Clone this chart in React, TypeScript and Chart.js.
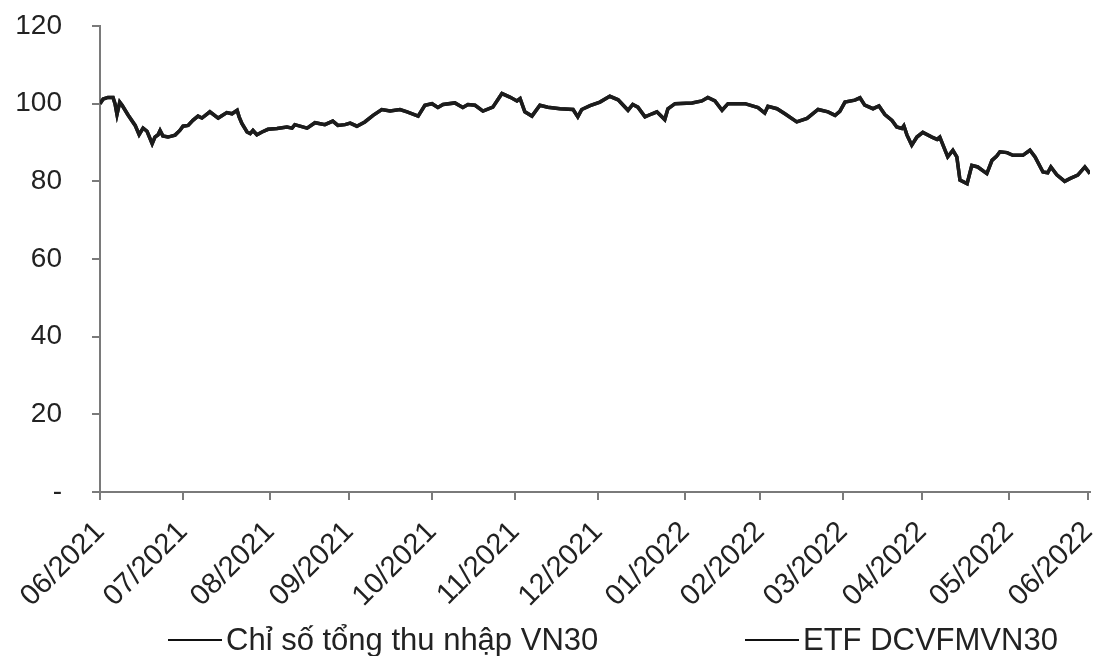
import React, { useEffect, useRef } from "react";
import { Chart, registerables } from "chart.js";

Chart.register(...registerables);

// trading-day number (0 = first trading day of 06/2021)
const dayIndex = [
  0, 0.8, 2, 3.3, 3.8, 4.3, 5, 5.6, 7.1, 8.9, 9.9, 10.9, 11.9, 13.2, 13.9, 14.7, 15.2, 15.9, 17.2, 19,
  20.2, 21, 22.3, 23.5, 24.8, 25.8, 27.8, 29.9, 32.1, 33.4, 34.7, 35.2, 35.9, 37.2, 38, 38.7, 39.7, 41,
  42.5, 44.8, 47.3, 48.6, 49.3, 52.4, 54.4, 56.9, 58.9, 60.2, 62, 63.3, 65, 67, 69.1, 71.3, 73.4, 75.9,
  77.7, 80.5, 82.2, 84, 85.5, 86.8, 89.8, 91.8, 93.1, 94.9, 96.9, 99.4, 101.7, 103.7, 105.5, 106.3,
  107.5, 109.3, 111.3, 113.3, 116.4, 119.7, 120.9, 121.9, 124, 126.5, 129, 131.1, 133.6, 134.8, 136.1,
  137.9, 139.7, 140.9, 142.9, 143.7, 145.5, 149.8, 152.3, 153.8, 155.6, 157.4, 158.9, 163.2, 166.5,
  168.2, 169, 171.3, 173.3, 176.3, 178.9, 181.7, 184.2, 186, 187.2, 188.5, 191, 192.3, 193.5, 195.6,
  197.1, 198.6, 200.4, 201.6, 202.9, 203.4, 204.2, 205.4, 206.7, 208.2, 210.5, 211.8, 212.5, 214.5,
  215.8, 216.8, 217.6, 219.4, 220.6, 222.1, 224.4, 225.7, 226.9, 227.7, 229.5, 231, 233.5, 235.3,
  236.6, 238.6, 239.8, 240.6, 242.1, 244.1, 245.4, 247.4, 249.2, 250.5,
];

// Chỉ số tổng thu nhập VN30
const vn30TotalReturn = [
  100, 101.2, 101.6, 101.6, 100, 97.2, 100.4, 99.6, 97.1, 94.4, 92, 93.7, 92.9, 89.7, 91.4, 92, 93.1, 91.7, 91.4, 91.9,
  93.1, 94.2, 94.4, 95.7, 96.8, 96.3, 97.9, 96.3, 97.7, 97.4, 98.3, 96.6, 94.9, 92.7, 92.3, 93.1, 92, 92.7,
  93.4, 93.6, 94, 93.7, 94.6, 93.7, 95.1, 94.6, 95.5, 94.4, 94.6, 95, 94.2, 95.3, 97, 98.5, 98.1, 98.5,
  97.9, 96.8, 99.6, 100, 99, 99.8, 100.2, 99, 99.8, 99.6, 98.1, 99.1, 102.6, 101.7, 100.7, 101.3,
  97.9, 96.8, 99.6, 99.1, 98.7, 98.5, 96.6, 98.5, 99.5, 100.4, 101.9, 101, 98.3, 99.8, 99.1,
  96.6, 97.4, 97.9, 95.9, 98.7, 100, 100.2, 100.7, 101.6, 100.7, 98.3, 100, 100, 99,
  97.6, 99.3, 98.7, 97.4, 95.3, 96.2, 98.5, 97.9, 97, 98, 100.4, 100.9, 101.5, 99.6, 98.7,
  99.4, 97.2, 95.7, 94, 93.6, 94.3, 91.9, 89.3, 91.4, 92.6, 91.4, 90.8, 91.4, 86.3,
  88, 86.3, 80.3, 79.4, 84.1, 83.7, 82, 85.4, 86.5, 87.6, 87.4, 86.7, 86.7, 88,
  86.3, 82.4, 82.2, 83.7, 81.7, 80, 80.7, 81.6, 83.7, 82,
];

// ETF DCVFMVN30 (overlaps the index line in the picture)
const etfDcvfmvn30 = vn30TotalReturn;

const monthTickIndex = [0, 21, 43, 63, 84, 105, 126, 148, 167, 188, 208, 230, 250];
const monthLabels = [
  "06/2021", "07/2021", "08/2021", "09/2021", "10/2021", "11/2021", "12/2021",
  "01/2022", "02/2022", "03/2022", "04/2022", "05/2022", "06/2022",
];

const seriesNames = ["Chỉ số tổng thu nhập VN30", "ETF DCVFMVN30"];

const FONT = "'Liberation Sans', Arial, sans-serif";
const AXIS = "#7a7a7a";
const TEXT = "#222222";

export default function App() {
  const ref = useRef<HTMLCanvasElement | null>(null);

  useEffect(() => {
    document.body.style.margin = "0";
    const canvas = ref.current;
    if (!canvas) return;
    const toPoints = (vals: number[]) => dayIndex.map((d, i) => ({ x: d, y: vals[i] }));
    const chart = new Chart(canvas, {
      type: "line",
      data: {
        datasets: [
          {
            label: seriesNames[0],
            data: toPoints(vn30TotalReturn),
            borderColor: "#1c1c1c",
            borderWidth: 3.5,
            pointRadius: 0,
            tension: 0,
          },
          {
            label: seriesNames[1],
            data: toPoints(etfDcvfmvn30),
            borderColor: "#1c1c1c",
            borderWidth: 3.5,
            pointRadius: 0,
            tension: 0,
          },
        ],
      },
      options: {
        animation: false,
        responsive: true,
        maintainAspectRatio: false,
        layout: { padding: { top: 26, right: 7, bottom: 0, left: 0 } },
        plugins: { legend: { display: false }, tooltip: { enabled: false } },
        scales: {
          x: {
            type: "linear",
            min: 0,
            max: 250.5,
            afterBuildTicks: (axis: any) => {
              axis.ticks = monthTickIndex.map((v) => ({ value: v }));
            },
            afterFit: (scale: any) => {
              scale.height = 164;
              scale.paddingLeft = 0;
              scale.paddingRight = 0;
              scale.paddingTop = 0;
              scale.paddingBottom = 0;
            },
            ticks: {
              autoSkip: false,
              minRotation: 45,
              maxRotation: 45,
              padding: 15,
              color: TEXT,
              font: { family: FONT, size: 29 },
              callback: (_v: any, i: number) => monthLabels[i],
            },
            grid: { drawOnChartArea: false, drawTicks: true, tickLength: 8, color: AXIS, lineWidth: 2 },
            border: { display: true, color: AXIS, width: 2 },
          },
          y: {
            min: 0,
            max: 120,
            afterFit: (scale: any) => {
              scale.width = 100;
              scale.paddingLeft = 0;
              scale.paddingRight = 0;
              scale.paddingTop = 0;
              scale.paddingBottom = 0;
            },
            ticks: {
              stepSize: 20,
              padding: 30,
              color: TEXT,
              font: { family: FONT, size: 28 },
              callback: (v: any) => (v === 0 ? "-" : String(v)),
            },
            grid: { drawOnChartArea: false, drawTicks: true, tickLength: 8, color: AXIS, lineWidth: 2 },
            border: { display: true, color: AXIS, width: 2 },
          },
        },
      },
    });
    return () => chart.destroy();
  }, []);

  const legendText: React.CSSProperties = {
    fontFamily: FONT,
    fontSize: 31,
    lineHeight: "30px",
    color: TEXT,
    whiteSpace: "nowrap",
  };
  const legendLine: React.CSSProperties = {
    width: 54,
    height: 2,
    background: "#111",
    marginRight: 4,
  };

  return (
    <div style={{ position: "relative", width: 1097, height: 656, background: "#fff" }}>
      <canvas ref={ref} />
      <div style={{ position: "absolute", left: 168, top: 625, height: 30, display: "flex", alignItems: "center" }}>
        <div style={legendLine} />
        <span style={legendText}>{seriesNames[0]}</span>
      </div>
      <div style={{ position: "absolute", left: 745, top: 625, height: 30, display: "flex", alignItems: "center" }}>
        <div style={legendLine} />
        <span style={legendText}>{seriesNames[1]}</span>
      </div>
    </div>
  );
}
